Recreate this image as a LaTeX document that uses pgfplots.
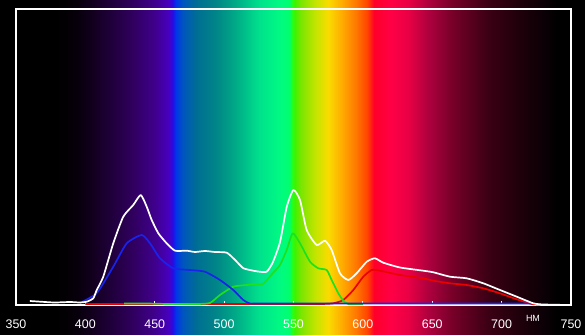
\documentclass[border=0pt]{standalone}
\usepackage{fontspec}
\setmainfont{Liberation Sans}
\usepackage{pgfplots}
\pgfplotsset{compat=1.18}
\pgfdeclarehorizontalshading{spectrum}{100bp}{%
rgb(0bp)=(0,0,0); rgb(25bp)=(0,0,0); rgb(28.125bp)=(0,0,0);
rgb(29.375bp)=(.01,0,.01); rgb(30.625bp)=(.03,0,.05); rgb(31.875bp)=(.07,0,.12);
rgb(33.75bp)=(.13,0,.24); rgb(35.625bp)=(.19,0,.38); rgb(37.5bp)=(.25,0,.55);
rgb(38.75bp)=(.28,0,.75); rgb(39.125bp)=(.15,.05,.90); rgb(39.375bp)=(0,.2,.92);
rgb(40bp)=(0,.33,.75); rgb(41.25bp)=(0,.43,.58); rgb(43.125bp)=(0,.53,.53);
rgb(45bp)=(0,.69,.53); rgb(46.875bp)=(0,.88,.55); rgb(48.75bp)=(0,.98,.51);
rgb(49.625bp)=(0,1,.43); rgb(49.875bp)=(.15,1,.1); rgb(50.125bp)=(.25,.95,0);
rgb(50.625bp)=(.47,.9,0); rgb(51.875bp)=(.75,.9,0); rgb(53.125bp)=(.98,.86,0);
rgb(54.375bp)=(1,.67,0); rgb(55.625bp)=(1,.47,0); rgb(56.625bp)=(1,.27,0);
rgb(57.25bp)=(1,0,.16); rgb(58.75bp)=(1,0,.27); rgb(60.25bp)=(.92,0,.27);
rgb(62.25bp)=(.67,0,.24); rgb(64.25bp)=(.47,0,.16); rgb(67.375bp)=(.24,0,.08);
rgb(70.375bp)=(.12,0,.04); rgb(72.625bp)=(.04,0,.02); rgb(73.75bp)=(0,0,0);
rgb(75bp)=(0,0,0); rgb(100bp)=(0,0,0)}
\definecolor{cblue}{RGB}{25,35,235}
\definecolor{cgreen}{RGB}{30,225,30}
\definecolor{cred}{RGB}{235,0,0}
\begin{document}
\begin{tikzpicture}
\fill[black] (-16bp,-30bp) rectangle (569bp,305bp);
\shade[shading=spectrum] (0,-30bp) rectangle (555bp,305bp);
\begin{axis}[
  at={(0,0)}, anchor=south west,
  scale only axis, width=555bp, height=296bp,
  xmin=350, xmax=750, ymin=0, ymax=296,
  axis line style={white, line width=1.2bp},
  xtick={350,400,...,750}, ytick=\empty,
  xtick pos=lower, tick align=inside,
  major tick length=4bp,
  tick style={white, line width=1bp},
  /pgf/number format/assume math mode=true,
  xticklabel style={white, font=\fontsize{12.5}{13}\selectfont, yshift=-11bp},
  clip=false,
  every axis plot/.append style={line width=1.7bp, line join=round, smooth, tension=0.35},
]
% red
\addplot[cred, mark=none] coordinates {
(400,1) (450,1) (500,1) (550,1) (570,1) (578.7,1.7) (585.9,5) (593.1,15) (600.3,28.3)
(606.4,35) (612.3,34.3) (626.8,30) (643.5,26.7) (650.8,24.3) (662.8,21.7)
(674.8,20) (686.8,16.7) (698.8,11.7) (710.9,5.7) (721.7,1) (728,0.5)};
% green
\addplot[cgreen, mark=none] coordinates {
(428,1.5) (444,1.5) (460,1) (480,1) (489.8,2) (497,10) (506.6,18.3) (516.3,20) (522.3,21)
(528,21) (535.2,32) (540.3,40) (545.1,55) (549.4,71.7) (554.7,61.7)
(561.9,43.3) (567.9,36.7) (573.9,35) (577.5,25) (582.3,11.7) (585.9,4.3)
(589.5,1) (600,0.8)};
% blue
\addplot[cblue, mark=none] coordinates {
(396.1,2) (408.2,12) (420.1,38.3) (429.8,61.7) (440.6,70) (446.6,61.7)
(453.8,46.7) (463.4,36.7) (475.4,35) (486.2,33.3) (497,25) (506.6,15)
(513.8,5) (518.6,1.5) (525.9,1.5) (600,1.5) (700,1.5) (722,1.5)};
% white
\addplot[white, mark=none] coordinates {
(360,4) (371,3) (378,2.5) (389,3) (396,2.5) (401,3.3) (405.7,6.7) (408.2,15)
(412.9,28.3) (420.1,61.7) (427.3,88.3) (434.5,100) (439.9,110) (444.2,98.3)
(447.8,85) (452.6,71.7) (458.6,61.7) (464.6,54.3) (473,54.3) (479,53)
(486.2,54) (493.4,53) (501.9,52.3) (507.9,45) (513.6,37) (518.6,35)
(524.4,33.5) (530.7,33.3) (535.2,43) (540.3,63) (545.1,98) (549.9,115)
(554.7,105) (559.5,75) (566.7,60) (572.7,64.3) (577.5,55) (583.5,31.7)
(589.5,25) (595.5,31.7) (602.8,43.3) (608.7,46.7) (614.7,42.3) (626.8,37.5)
(643.5,34.3) (650.8,32.7) (662.8,28.3) (674.8,26.7) (686.8,21.7)
(698.8,15) (710.9,8.3) (722.8,1.7) (730,0.5) (742,0.3)};
\node[white, font=\fontsize{9}{9}\selectfont, anchor=north, inner sep=0pt] at (axis cs:722.6,0) [yshift=-10bp] {НМ};
\end{axis}
\pgfresetboundingbox
\path (-16bp,-30bp) rectangle (569bp,305bp);
\end{tikzpicture}
\end{document}
